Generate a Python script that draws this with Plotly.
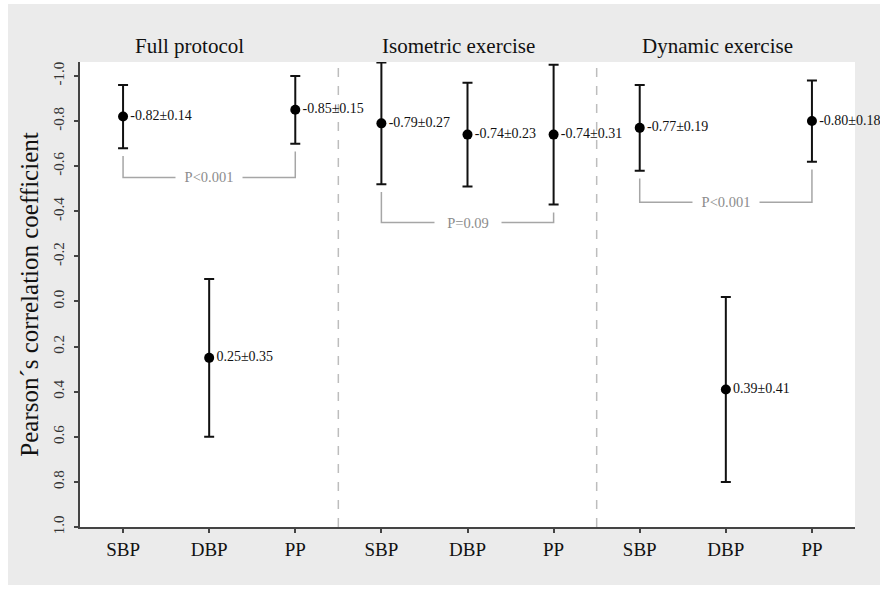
import plotly.graph_objects as go

# ---- data ----
groups = ["Full protocol", "Isometric exercise", "Dynamic exercise"]
measures = ["SBP", "DBP", "PP"]
means = [-0.82, 0.25, -0.85, -0.79, -0.74, -0.74, -0.77, 0.39, -0.80]
sds = [0.14, 0.35, 0.15, 0.27, 0.23, 0.31, 0.19, 0.41, 0.18]
y_ticks = [-1.0, -0.8, -0.6, -0.4, -0.2, 0.0, 0.2, 0.4, 0.6, 0.8, 1.0]
y_tick_labels = ["-1.0", "-0.8", "-0.6", "-0.4", "-0.2", "0.0", "0.2", "0.4", "0.6", "0.8", "1.0"]
p_labels = ["P<0.001", "P=0.09", "P<0.001"]
p_levels = [-0.55, -0.35, -0.44]

# ---- derived ----
x_pos = list(range(len(groups) * len(measures)))
tick_text = measures * len(groups)
labels = [f"{m:.2f}±{s:.2f}" for m, s in zip(means, sds)]

W, H = 883, 589
ML, MR, MT, MB = 80, 28, 62, 62
PW, PH = W - ML - MR, H - MT - MB
SERIF = "Liberation Serif, Times New Roman, serif"

fig = go.Figure()
fig.add_trace(go.Scatter(
    x=x_pos, y=means, mode="markers+text",
    marker=dict(color="black", size=10),
    error_y=dict(type="data", array=sds, visible=True, color="#111111",
                 thickness=2, width=5),
    text=labels, textposition="middle right",
    textfont=dict(family=SERIF, size=14, color="#111111"),
    showlegend=False, cliponaxis=False, hoverinfo="skip",
))

shapes = []
# dashed separators between groups
for g in range(1, len(groups)):
    xs = g * len(measures) - 0.5
    shapes.append(dict(type="line", xref="x", yref="paper", x0=xs, x1=xs, y0=0, y1=1,
                       line=dict(color="#bdbdbd", width=1.5, dash="dash"), layer="below"))

annotations = []
# brackets between SBP and PP of each group
for g in range(len(groups)):
    i0 = g * len(measures)
    i1 = i0 + len(measures) - 1
    top0 = means[i0] + sds[i0] + 0.035
    top1 = means[i1] + sds[i1] + 0.035
    lvl = p_levels[g]
    path = f"M {x_pos[i0]},{top0} L {x_pos[i0]},{lvl} L {x_pos[i1]},{lvl} L {x_pos[i1]},{top1}"
    shapes.append(dict(type="path", xref="x", yref="y", path=path,
                       line=dict(color="#a6a6a6", width=1.5)))
    annotations.append(dict(x=(x_pos[i0] + x_pos[i1]) / 2, y=lvl, xref="x", yref="y",
                            text=p_labels[g], showarrow=False, bgcolor="white",
                            width=66, borderpad=0,
                            font=dict(family=SERIF, size=14.5, color="#8c8c8c")))

# group titles
title_offsets = [-0.23, -0.1, -0.1]
for g, name in enumerate(groups):
    annotations.append(dict(x=g * len(measures) + 1 + title_offsets[g], y=1, xref="x", yref="paper",
                            yanchor="bottom", yshift=2, text=name, showarrow=False,
                            font=dict(family=SERIF, size=21, color="#111111")))

# white page border around gray panel
def fx(p):
    return (p - ML) / PW

def fy(p):
    return (H - MB - p) / PH

for (x0, y0, x1, y1) in [(0, 0, 8, H), (0, 0, W, 4), (880, 0, W, H), (0, 585, W, H)]:
    shapes.append(dict(type="rect", xref="paper", yref="paper",
                       x0=fx(x0), x1=fx(x1), y0=fy(y1), y1=fy(y0),
                       fillcolor="white", line=dict(width=0), layer="above"))

fig.update_layout(
    width=W, height=H,
    margin=dict(l=ML, r=MR, t=MT, b=MB),
    paper_bgcolor="#ebebeb", plot_bgcolor="white",
    shapes=shapes, annotations=annotations,
    font=dict(family=SERIF, color="#222222"),
    xaxis=dict(range=[-0.5, len(x_pos) - 0.5], tickvals=x_pos, ticktext=tick_text,
               ticks="outside", ticklen=4, tickcolor="#444444", tickwidth=1.5,
               showline=True, linecolor="#444444", linewidth=1.5,
               showgrid=False, zeroline=False,
               tickfont=dict(family=SERIF, size=19, color="#111111")),
    yaxis=dict(range=[1.0, -1.062], tickvals=y_ticks, ticktext=y_tick_labels,
               tickangle=-90, ticks="outside", ticklen=4, tickcolor="#444444", tickwidth=1.5,
               ticklabelstandoff=4,
               showline=True, linecolor="#444444", linewidth=1.5,
               showgrid=False, zeroline=False,
               tickfont=dict(family=SERIF, size=15, color="#333333"),
               title=dict(text="Pearson´s correlation coefficient", standoff=6,
                          font=dict(family=SERIF, size=25, color="#111111"))),
)

fig.write_html("out.html")
